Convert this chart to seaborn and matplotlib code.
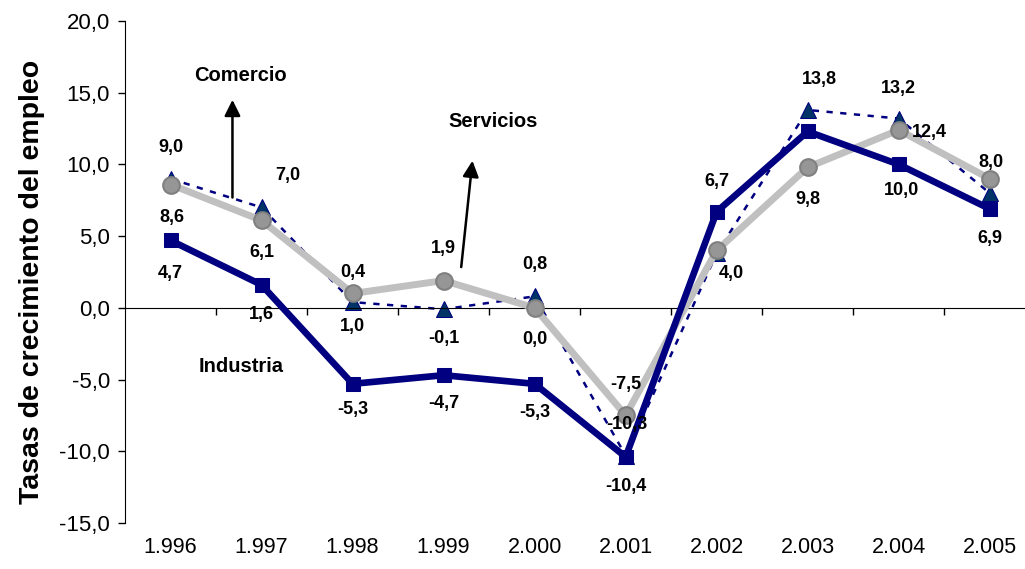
#!/usr/bin/python

'''
Tasas de crecimiento del empleo por sector, 1996-2005
'''

import numpy as np
import pandas as pd
import seaborn as sns
from matplotlib import pyplot as plt
from matplotlib.ticker import FixedLocator, FuncFormatter

# - data ----------------------------------------------------------------------
years = ['1.996', '1.997', '1.998', '1.999', '2.000',
         '2.001', '2.002', '2.003', '2.004', '2.005']
industria = [4.7, 1.6, -5.3, -4.7, -5.3, -10.4, 6.7, 12.3, 10.0, 6.9]
comercio = [9.0, 7.0, 0.4, -0.1, 0.8, -10.3, 3.8, 13.8, 13.2, 8.0]
servicios = [8.6, 6.1, 1.0, 1.9, 0.0, -7.5, 4.0, 9.8, 12.4, 9.0]

# which points carry a value label, and where the label sits (pixel offset)
industria_lbl = {0: (0, -33), 1: (0, -30), 2: (0, -26), 3: (0, -28), 4: (0, -29),
                 5: (0, -30), 6: (0, 30), 8: (3, -26), 9: (0, -30)}
comercio_lbl = {0: (0, 31), 1: (26, 32), 2: (0, 30), 3: (0, -29), 4: (0, 32),
                5: (1, 31), 7: (12, 30), 8: (0, 30), 9: (1, 31)}
servicios_lbl = {0: (1, -33), 1: (0, -32), 2: (0, -33), 3: (0, 32), 4: (0, -32),
                 5: (0, 31), 6: (15, -23), 7: (0, -32), 8: (31, -2)}


def fmt(v):
    return f'{v:.1f}'.replace('.', ',')


# - plot ----------------------------------------------------------------------
sns.set_style('white')
plt.rcParams['font.family'] = ['Liberation Sans', 'DejaVu Sans']
plt.rcParams['text.color'] = 'black'
plt.rcParams['axes.labelcolor'] = 'black'

df = pd.DataFrame({'year': years, 'Industria': industria,
                   'Comercio': comercio, 'Servicios': servicios})
df['pos'] = np.arange(len(years))

fig = plt.figure(figsize=(10.25, 5.69), dpi=100)
ax = fig.add_axes([0.122, 0.081, 0.888, 0.882])

sns.lineplot(x='pos', y='Comercio', data=df, ax=ax, color='#000080',
             linewidth=1.8, linestyle=(0, (2.5, 3)), marker='^', markersize=12,
             markerfacecolor='#003366', markeredgecolor='#000080', zorder=2)
sns.lineplot(x='pos', y='Servicios', data=df, ax=ax, color='#C0C0C0',
             linewidth=5, marker='o', markersize=12,
             markerfacecolor='#969696', markeredgecolor='#808080',
             markeredgewidth=1.5, zorder=3)
sns.lineplot(x='pos', y='Industria', data=df, ax=ax, color='#000080',
             linewidth=4.8, marker='s', markersize=10,
             markerfacecolor='#000080', markeredgecolor='#000080', zorder=4)

# value labels
for vals, lbls in [(industria, industria_lbl), (comercio, comercio_lbl),
                   (servicios, servicios_lbl)]:
    for i, (dx, dy) in lbls.items():
        ax.annotate(fmt(vals[i]), (i, vals[i]), xytext=(dx, dy),
                    textcoords='offset pixels', ha='center', va='center',
                    fontsize=13, fontweight='bold', color='black', zorder=6)

# series names and arrows
ax.text(0.77, 16.2, 'Comercio', ha='center', va='center',
        fontsize=14.5, fontweight='bold')
ax.annotate('', xy=(0.68, 14.7), xytext=(0.68, 7.5),
            arrowprops=dict(arrowstyle='-|>', color='black', lw=1.8,
                            mutation_scale=24))
ax.text(3.54, 13.0, 'Servicios', ha='center', va='center',
        fontsize=14.5, fontweight='bold')
ax.annotate('', xy=(3.32, 10.45), xytext=(3.19, 2.65),
            arrowprops=dict(arrowstyle='-|>', color='black', lw=1.8,
                            mutation_scale=24))
ax.text(0.78, -4.1, 'Industria', ha='center', va='center',
        fontsize=14.5, fontweight='bold')

# axes
ax.set_xlim(-0.5, 9.5)
ax.set_ylim(-15, 20)
ax.set_yticks(np.arange(-15, 20.1, 5))
ax.yaxis.set_major_formatter(FuncFormatter(lambda v, p: fmt(v)))
ax.tick_params(axis='y', direction='out', length=5, width=1, colors='black',
               labelsize=16, left=True, pad=6)
ax.set_ylabel('Tasas de crecimiento del empleo', fontsize=20.5,
              fontweight='bold')
ax.yaxis.set_label_coords(-0.088, 0.48)

ax.spines['top'].set_visible(False)
ax.spines['right'].set_visible(False)
ax.spines['left'].set_color('black')
ax.spines['bottom'].set_color('black')
ax.spines['bottom'].set_position(('data', 0))
ax.set_xlabel('')
ax.xaxis.set_major_locator(FixedLocator(np.arange(0.5, 9, 1)))
ax.xaxis.set_major_formatter(FuncFormatter(lambda v, p: ''))
ax.tick_params(axis='x', direction='out', length=5, width=1, colors='black',
               bottom=True)

sec = ax.secondary_xaxis('bottom')
sec.set_xticks(df['pos'], labels=years)
sec.tick_params(length=0, labelsize=15.5, pad=10, colors='black')
sec.spines['bottom'].set_visible(False)

plt.savefig('out.png', dpi=100)
